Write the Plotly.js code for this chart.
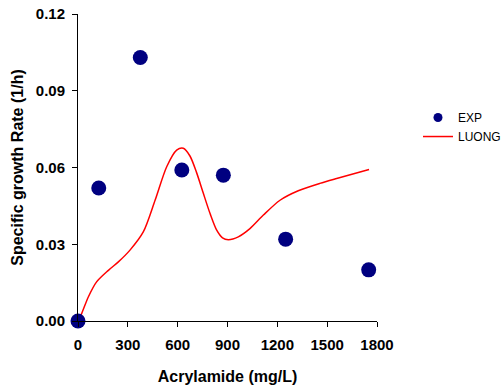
<!DOCTYPE html>
<html>
<head>
<meta charset="utf-8">
<script src="https://cdn.plot.ly/plotly-3.0.1.min.js"></script>
<style>html,body{margin:0;padding:0;background:#fff;overflow:hidden;}#chart{width:515px;height:392px;}</style>
</head>
<body>
<div id="chart"></div>
<script>
// Experimental data
const expX = [0, 125, 375, 625, 875, 1250, 1750];
const expY = [0.000, 0.052, 0.103, 0.059, 0.057, 0.032, 0.020];
// LUONG model curve
const luongX = [0, 22, 62, 112, 183, 243, 313, 393, 464, 534, 594, 634, 674, 714, 754, 795, 835, 870, 905, 965, 1035, 1116, 1216, 1326, 1456, 1557, 1752];
const luongY = [0.000, 0.0029, 0.0094, 0.0153, 0.0198, 0.0231, 0.0277, 0.0348, 0.0472, 0.0603, 0.0668, 0.0675, 0.0645, 0.0580, 0.0500, 0.0420, 0.0355, 0.0325, 0.0318, 0.0329, 0.0361, 0.0414, 0.0472, 0.0509, 0.0538, 0.0557, 0.0592];
const xTicks = [0, 300, 600, 900, 1200, 1500, 1800];
const yTicks = [0, 0.03, 0.06, 0.09, 0.12];

const navy = '#000080';
const traces = [
  {x: luongX, y: luongY, mode: 'lines', name: 'LUONG', line: {color: '#ff0000', width: 1.5, shape: 'spline', smoothing: 0.8}, showlegend: true, cliponaxis: false},
  {x: expX, y: expY, mode: 'markers', name: 'EXP', marker: {color: navy, size: 15}, showlegend: false, cliponaxis: false},
  {x: [null], y: [null], mode: 'markers', name: 'EXP', marker: {color: navy, size: 9}, showlegend: true}
];
const fam = 'Liberation Sans, Arial, sans-serif';
const plotW = 299, totalW = 437; // plot width vs paper width (l=78, r=0, paper 515 wide, cropped at 503)
const layout = {
  width: 515, height: 392,
  margin: {l: 78, r: 0, t: 14, b: 71, pad: 0},
  paper_bgcolor: '#fff', plot_bgcolor: '#fff',
  showlegend: true,
  legend: {x: (418 - 78) / totalW, xanchor: 'left', y: 0.71, yanchor: 'top', traceorder: 'reversed',
           font: {family: fam, size: 12, color: '#000'}, bgcolor: 'rgba(0,0,0,0)'},
  xaxis: {domain: [0, plotW / totalW], range: [0, 1800], tickvals: xTicks, ticktext: xTicks.map(String),
          showgrid: false, zeroline: false, showline: true, linecolor: '#000', linewidth: 1,
          ticks: 'outside', ticklen: 5, tickcolor: '#000', ticklabelstandoff: 5,
          tickfont: {family: fam, size: 15, color: '#000', weight: 'bold'},
          title: {text: '<b>Acrylamide (mg/L)</b>', font: {family: fam, size: 16, color: '#000'}, standoff: 18}},
  yaxis: {range: [0, 0.12], tickvals: yTicks, ticktext: yTicks.map(v => v.toFixed(2)),
          showgrid: false, zeroline: false, showline: true, linecolor: '#000', linewidth: 1,
          ticks: 'outside', ticklen: 5, tickcolor: '#000', ticklabelstandoff: 4,
          tickfont: {family: fam, size: 15, color: '#000', weight: 'bold'},
          title: {text: '<b>Specific growth Rate (1/h)</b>', font: {family: fam, size: 16, color: '#000'}, standoff: 8}}
};
Plotly.newPlot('chart', traces, layout, {staticPlot: true, displayModeBar: false});
</script>
</body>
</html>
